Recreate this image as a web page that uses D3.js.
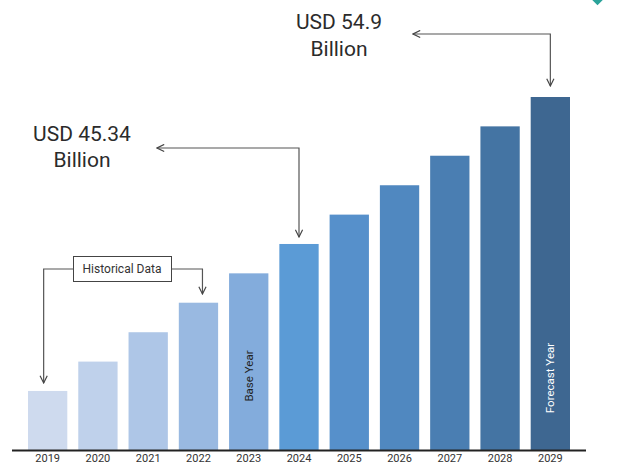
<!DOCTYPE html>
<html>
<head>
<meta charset="utf-8">
<script src="https://cdn.jsdelivr.net/npm/d3@7"></script>
<style>
  body { margin: 0; background: #fff; }
  svg { display: block; font-family: Roboto, "Liberation Sans", Arial, sans-serif; }
</style>
</head>
<body>
<div class="chart"></div>
<script>
// values (USD billion)
var years = ["2019", "2020", "2021", "2022", "2023", "2024", "2025", "2026", "2027", "2028", "2029"];
var values = [35.78, 37.69, 39.6, 41.52, 43.43, 45.34, 47.25, 49.16, 51.08, 52.99, 54.9];
var barColors = ["#cedaee", "#bfd1eb", "#aec6e7", "#99b9e1", "#83acdc", "#5b9bd6", "#5690cb", "#5088c0", "#4a7eb2", "#4474a3", "#3e6791"];

var svgWidth = 626;
var svgHeight = 465;

var svg = d3.select(".chart").append("svg")
    .attr("width", svgWidth)
    .attr("height", svgHeight);

// chart area
var baseY = 450;

var xScale = d3.scaleBand()
    .domain(years)
    .range([28, 570])
    .paddingInner(0.218)
    .paddingOuter(0);

// axis does not start at zero in the original
var yScale = d3.scaleLinear()
    .domain([31.94, 54.9])
    .range([baseY, 97]);

// bars
svg.selectAll("rect.bar")
    .data(years)
    .enter()
    .append("rect")
    .attr("class", "bar")
    .attr("x", d => xScale(d))
    .attr("y", (d, i) => yScale(values[i]))
    .attr("width", xScale.bandwidth())
    .attr("height", (d, i) => baseY - yScale(values[i]))
    .attr("fill", (d, i) => barColors[i]);

// baseline
svg.append("line")
    .attr("x1", 12).attr("x2", 586)
    .attr("y1", baseY + 0.5).attr("y2", baseY + 0.5)
    .attr("stroke", "#222")
    .attr("stroke-width", 2);

// year labels (kept just inside the bottom edge)
var bottomAxis = d3.axisBottom(xScale).tickSize(0).tickPadding(0);
var xAxis = svg.append("g")
    .attr("transform", `translate(0, ${baseY})`)
    .call(bottomAxis);
xAxis.select(".domain").remove();
xAxis.selectAll("text")
    .attr("dy", null)
    .attr("y", 11.5)
    .attr("font-size", "11px")
    .attr("font-family", "Roboto, sans-serif")
    .attr("fill", "#333");

// rotated labels inside bars
function barLabel(year, text, color, cy) {
    var cx = xScale(year) + xScale.bandwidth() / 2;
    svg.append("text")
        .attr("transform", `translate(${cx}, ${cy}) rotate(-90)`)
        .attr("text-anchor", "middle")
        .attr("dy", "0.35em")
        .attr("font-size", "11.5px")
        .attr("fill", color)
        .text(text);
}
barLabel("2023", "Base Year", "#222", 376);
barLabel("2029", "Forecast Year", "#fff", 378);

// arrow heads
var defs = svg.append("defs");
defs.append("marker")
    .attr("id", "arrow")
    .attr("viewBox", "0 0 10 10")
    .attr("refX", 9).attr("refY", 5)
    .attr("markerWidth", 9).attr("markerHeight", 9)
    .attr("markerUnits", "userSpaceOnUse")
    .attr("orient", "auto-start-reverse")
    .append("path")
    .attr("d", "M1,1 L9,5 L1,9")
    .attr("fill", "none")
    .attr("stroke", "#444")
    .attr("stroke-width", 1.3);

function elbow(points, startArrow, endArrow) {
    var p = svg.append("path")
        .attr("d", d3.line()(points))
        .attr("fill", "none")
        .attr("stroke", "#555")
        .attr("stroke-width", 1.2);
    if (startArrow) p.attr("marker-start", "url(#arrow)");
    if (endArrow) p.attr("marker-end", "url(#arrow)");
}

function bigLabel(cx, y, lines) {
    var t = svg.append("text")
        .attr("text-anchor", "middle")
        .attr("font-size", "21px")
        .attr("fill", "#2b2b2b");
    lines.forEach(function(l, i) {
        t.append("tspan").attr("x", cx).attr("y", y + i * 26.5).text(l);
    });
}

// 2024 callout
var x2024 = xScale("2024") + xScale.bandwidth() / 2;
bigLabel(82, 140.5, ["USD " + values[5], "Billion"]);
elbow([[157, 148], [x2024, 148], [x2024, 237]], true, true);

// 2029 callout
var x2029 = xScale("2029") + xScale.bandwidth() / 2;
bigLabel(339, 29, ["USD " + values[10], "Billion"]);
elbow([[413, 34], [x2029, 34], [x2029, 86]], true, true);

// historical data box
var x2019 = xScale("2019") + xScale.bandwidth() / 2;
var x2022 = xScale("2022") + xScale.bandwidth() / 2 + 4;
svg.append("rect")
    .attr("x", 73.5).attr("y", 256.5)
    .attr("width", 98).attr("height", 25)
    .attr("fill", "#fff")
    .attr("stroke", "#444")
    .attr("stroke-width", 1);
svg.append("text")
    .attr("x", 122).attr("y", 269)
    .attr("dy", "0.35em")
    .attr("text-anchor", "middle")
    .attr("font-size", "12px")
    .attr("fill", "#333")
    .text("Historical  Data");
elbow([[73.5, 269], [x2019 - 4, 269], [x2019 - 4, 383]], false, true);
elbow([[171.5, 269], [x2022, 269], [x2022, 294]], false, true);

// partial logo at the top right corner
svg.append("rect")
    .attr("x", 592).attr("y", -8)
    .attr("width", 11).attr("height", 11)
    .attr("transform", "rotate(45, 597.5, -2.5)")
    .attr("fill", "#2aa39a");
</script>
</body>
</html>
